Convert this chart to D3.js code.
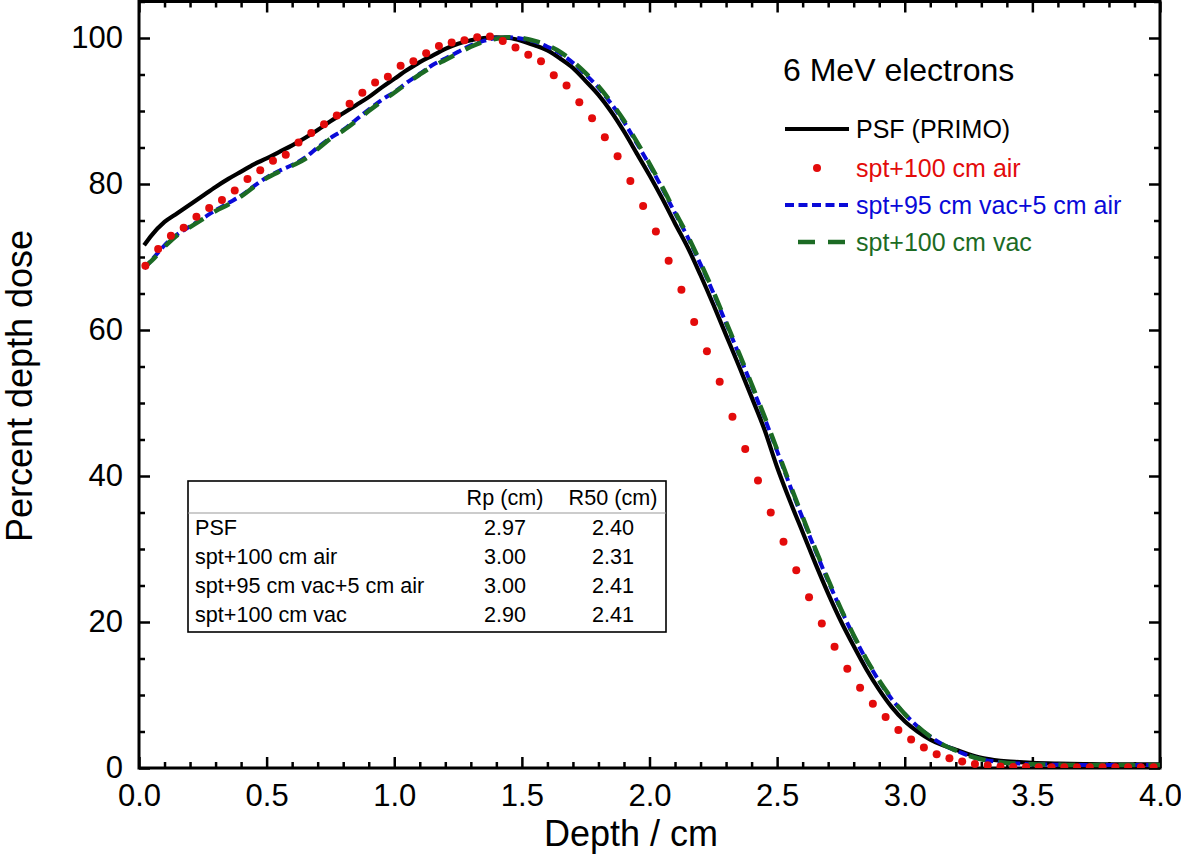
<!DOCTYPE html>
<html><head><meta charset="utf-8">
<script src="https://cdn.jsdelivr.net/npm/d3@7"></script>
<style>
html,body{margin:0;padding:0;background:#fff;}
svg{display:block;font-family:"Liberation Sans",Arial,sans-serif;}
</style></head>
<body><svg id="c" width="1181" height="858"></svg>
<script>
// ---------- data ----------
const lineDepth = [0.02,0.05,0.10,0.15,0.20,0.25,0.30,0.35,0.40,0.45,0.50,0.55,0.60,0.65,0.70,0.75,0.80,0.85,0.90,0.95,
  1.00,1.05,1.10,1.15,1.20,1.25,1.30,1.35,1.40,1.45,1.50,1.55,1.60,1.65,1.70,1.75,1.80,1.85,1.90,1.95,
  2.00,2.05,2.10,2.15,2.20,2.25,2.30,2.35,2.40,2.45,2.50,2.55,2.60,2.65,2.70,2.75,2.80,2.85,2.90,2.95,
  3.00,3.05,3.10,3.15,3.20,3.25,3.30,3.35,3.40,3.45,3.50,3.60,3.70,3.80,3.90,4.00];
const psfDose = [71.6,73.0,74.8,76.0,77.2,78.4,79.6,80.7,81.7,82.7,83.5,84.4,85.3,86.3,87.4,88.6,89.7,90.8,91.9,93.2,
  94.4,95.6,96.7,97.6,98.5,99.2,99.7,100.0,100.1,100.0,99.6,99.0,98.3,97.2,95.9,94.1,92.2,89.9,87.2,84.2,
  81.2,78.0,74.6,71.3,67.5,63.5,59.3,55.1,50.8,46.4,41.2,36.6,32.3,28.0,23.9,20.1,16.7,13.5,10.7,8.3,
  6.4,5.0,3.9,3.1,2.5,1.9,1.4,1.1,0.9,0.8,0.7,0.6,0.55,0.5,0.5,0.5];
const vacAirDose = [68.4,69.6,71.6,73.1,74.2,75.3,76.4,77.4,78.4,79.7,80.9,81.8,82.6,83.6,85.0,86.3,87.4,88.8,90.2,91.5,
  92.6,93.9,95.1,96.3,97.2,98.1,99.0,99.6,100.0,100.1,99.9,99.5,98.8,97.9,96.6,95.0,93.2,91.0,88.5,85.6,
  82.6,79.4,76.0,72.7,69.0,65.1,60.9,56.7,52.4,48.0,43.4,38.7,34.2,29.8,25.6,21.7,18.1,14.8,11.9,9.4,
  7.4,5.7,4.3,3.2,2.4,1.7,1.2,0.9,0.7,0.6,0.5,0.45,0.4,0.4,0.4,0.4];
const vacDose = [68.6,69.5,71.4,73.0,74.1,75.2,76.3,77.2,78.3,79.6,80.8,81.7,82.5,83.4,84.8,86.2,87.3,88.6,90.0,91.3,
  92.5,93.8,95.0,96.1,97.0,97.9,98.8,99.5,99.9,100.1,100.0,99.6,99.0,98.1,96.8,95.2,93.4,91.2,88.7,85.8,
  82.8,79.6,76.2,72.9,69.2,65.3,61.1,56.9,52.6,48.2,43.6,38.9,34.4,30.0,25.8,21.8,18.2,14.9,12.0,9.5,
  7.4,5.7,4.3,3.2,2.4,1.7,1.2,0.9,0.7,0.6,0.5,0.45,0.4,0.4,0.4,0.4];
const airDepth = [0.025,0.075,0.125,0.175,0.225,0.275,0.325,0.375,0.425,0.475,0.525,0.575,0.625,0.675,0.725,0.775,0.825,0.875,0.925,0.975,
  1.025,1.075,1.125,1.175,1.225,1.275,1.325,1.375,1.425,1.475,1.525,1.575,1.625,1.675,1.725,1.775,1.825,1.875,1.925,1.975,
  2.025,2.075,2.125,2.175,2.225,2.275,2.325,2.375,2.425,2.475,2.525,2.575,2.625,2.675,2.725,2.775,2.825,2.875,2.925,2.975,
  3.025,3.075,3.125,3.175,3.225,3.275,3.325,3.375,3.425,3.475,3.525,3.575,3.625,3.675,3.725,3.775,3.825,3.875,3.925,3.975];
const airDose = [68.8,71.1,72.9,74.0,75.5,76.7,77.8,79.1,80.7,81.9,83.2,84.0,85.7,87.0,88.2,89.4,91.0,92.5,93.9,94.7,
  96.2,96.8,97.9,98.9,99.4,99.7,100.1,100.2,99.6,98.7,97.7,96.8,94.9,93.5,91.2,89.0,86.4,83.8,80.4,77.0,
  73.5,69.5,65.5,61.1,57.1,52.9,48.1,43.7,39.4,35.0,31.0,27.1,23.4,19.8,16.6,13.6,11.0,8.8,7.0,5.2,
  3.9,2.8,1.9,1.35,0.9,0.55,0.37,0.22,0.15,0.12,0.1,0.1,0.1,0.1,0.1,0.1,0.1,0.1,0.1,0.1];

const xMajor = [0.0,0.5,1.0,1.5,2.0,2.5,3.0,3.5,4.0];
const xTickLabels = ["0.0","0.5","1.0","1.5","2.0","2.5","3.0","3.5","4.0"];
const xMinor = [0.1,0.2,0.3,0.4,0.6,0.7,0.8,0.9,1.1,1.2,1.3,1.4,1.6,1.7,1.8,1.9,2.1,2.2,2.3,2.4,2.6,2.7,2.8,2.9,3.1,3.2,3.3,3.4,3.6,3.7,3.8,3.9];
const yMajor = [0,20,40,60,80,100];
const yMinor = [5,10,15,25,30,35,45,50,55,65,70,75,85,90,95,105];

const legendTitle = "6 MeV electrons";
const seriesNames = ["PSF (PRIMO)","spt+100 cm air","spt+95 cm vac+5 cm air","spt+100 cm vac"];
const tableHeader = ["", "Rp (cm)", "R50 (cm)"];
const tableRows = ["PSF","spt+100 cm air","spt+95 cm vac+5 cm air","spt+100 cm vac"];
const tableRp = ["2.97","3.00","3.00","2.90"];
const tableR50 = ["2.40","2.31","2.41","2.41"];

// ---------- layout ----------
const W = 1181, H = 858;
const m = {left:139, right:21, top:1.5, bottom:90};
const iw = W - m.left - m.right, ih = H - m.top - m.bottom;
const RED = "#e30b0b", BLUE = "#0a0ad8", GREEN = "#1c6b24";

const svg = d3.select("#c");
const g = svg.append("g").attr("transform", `translate(${m.left},${m.top})`);
const x = d3.scaleLinear().domain([0,4]).range([0,iw]);
const y = d3.scaleLinear().domain([0,105]).range([ih,0]);

function styleAxis(sel){
  sel.select(".domain").remove();
  sel.selectAll(".tick line").attr("stroke","#000").attr("stroke-width",2.5);
  sel.selectAll("text").attr("font-size",31).attr("fill","#000").attr("font-family","Liberation Sans, Arial, sans-serif");
}
g.append("g").attr("transform",`translate(0,${ih})`)
  .call(d3.axisBottom(x).tickValues(xMajor).tickFormat((d,i)=>xTickLabels[i]).tickSize(-11).tickPadding(16)).call(styleAxis);
g.append("g").attr("transform",`translate(0,${ih})`)
  .call(d3.axisBottom(x).tickValues(xMinor).tickFormat("").tickSize(-6)).call(styleAxis);
g.append("g").call(d3.axisTop(x).tickValues(xMajor).tickFormat("").tickSize(-11)).call(styleAxis);
g.append("g").call(d3.axisTop(x).tickValues(xMinor).tickFormat("").tickSize(-6)).call(styleAxis);
g.append("g").call(d3.axisLeft(y).tickValues(yMajor).tickFormat(d3.format("d")).tickSize(-11).tickPadding(16)).call(styleAxis);
g.append("g").call(d3.axisLeft(y).tickValues(yMinor).tickFormat("").tickSize(-6)).call(styleAxis);
g.append("g").attr("transform",`translate(${iw},0)`).call(d3.axisRight(y).tickValues(yMajor).tickFormat("").tickSize(-11)).call(styleAxis);
g.append("g").attr("transform",`translate(${iw},0)`).call(d3.axisRight(y).tickValues(yMinor).tickFormat("").tickSize(-6)).call(styleAxis);

g.append("rect").attr("x",0).attr("y",0).attr("width",iw).attr("height",ih)
  .attr("fill","none").attr("stroke","#000").attr("stroke-width",3);

// axis titles
svg.append("text").attr("x", 631).attr("y", 846).attr("text-anchor","middle")
  .attr("font-size",36).text("Depth / cm");
svg.append("text").attr("transform",`translate(32,386) rotate(-90)`).attr("text-anchor","middle")
  .attr("font-size",36).text("Percent depth dose");

// curves
g.append("clipPath").attr("id","clp").append("rect").attr("width",iw).attr("height",ih);
const plot = g.append("g").attr("clip-path","url(#clp)");
const line = d3.line().x(d=>x(d[0])).y(d=>y(d[1])).curve(d3.curveMonotoneX);
const zip = (a,b)=>a.map((v,i)=>[v,b[i]]);
plot.append("path").datum(zip(lineDepth,psfDose)).attr("d",line)
  .attr("fill","none").attr("stroke","#000").attr("stroke-width",4.2);
plot.append("path").datum(zip(lineDepth,vacAirDose)).attr("d",line)
  .attr("fill","none").attr("stroke",BLUE).attr("stroke-width",4).attr("stroke-dasharray","9,4.5");
plot.append("path").datum(zip(lineDepth,vacDose)).attr("d",line)
  .attr("fill","none").attr("stroke",GREEN).attr("stroke-width",4.5).attr("stroke-dasharray","17,13");
plot.selectAll("circle.air").data(zip(airDepth,airDose)).join("circle").attr("class","air")
  .attr("cx",d=>x(d[0])).attr("cy",d=>y(d[1])).attr("r",4).attr("fill",RED);

// legend
svg.append("text").attr("x",783).attr("y",81).attr("font-size",32).text(legendTitle);
const leg = [
  {y:129, color:"#000", type:"solid"},
  {y:168, color:RED, type:"dot"},
  {y:205, color:BLUE, type:"short"},
  {y:242, color:GREEN, type:"long"}
];
leg.forEach((L,i)=>{
  if(L.type==="dot"){
    svg.append("circle").attr("cx",817).attr("cy",L.y).attr("r",4).attr("fill",RED);
  } else if(L.type==="solid"){
    svg.append("line").attr("x1",785).attr("x2",849).attr("y1",L.y).attr("y2",L.y).attr("stroke","#000").attr("stroke-width",4.2);
  } else if(L.type==="short"){
    svg.append("line").attr("x1",785).attr("x2",849).attr("y1",L.y).attr("y2",L.y).attr("stroke",BLUE).attr("stroke-width",4).attr("stroke-dasharray","9,4.5");
  } else {
    svg.append("line").attr("x1",798).attr("x2",845).attr("y1",L.y).attr("y2",L.y).attr("stroke",GREEN).attr("stroke-width",4.5).attr("stroke-dasharray","17,13");
  }
  svg.append("text").attr("x",856).attr("y",L.y+9).attr("font-size",25)
    .attr("fill", i===0 ? "#000" : L.color).text(seriesNames[i]);
});

// table box
const tb = {x:188, y:481, w:478, h:151};
svg.append("rect").attr("x",tb.x).attr("y",tb.y).attr("width",tb.w).attr("height",tb.h)
  .attr("fill","#fff").attr("stroke","#000").attr("stroke-width",1.6);
svg.append("line").attr("x1",tb.x).attr("x2",tb.x+tb.w).attr("y1",513).attr("y2",513)
  .attr("stroke","#999").attr("stroke-width",1);
const col1 = 505, col2 = 613;
const fs = 21.6;
svg.append("text").attr("x",col1).attr("y",505).attr("text-anchor","middle").attr("font-size",fs).text(tableHeader[1]);
svg.append("text").attr("x",col2).attr("y",505).attr("text-anchor","middle").attr("font-size",fs).text(tableHeader[2]);
const rowY = [535,564,593,622];
tableRows.forEach((r,i)=>{
  svg.append("text").attr("x",195).attr("y",rowY[i]).attr("font-size",fs).text(r);
  svg.append("text").attr("x",col1).attr("y",rowY[i]).attr("text-anchor","middle").attr("font-size",fs).text(tableRp[i]);
  svg.append("text").attr("x",col2).attr("y",rowY[i]).attr("text-anchor","middle").attr("font-size",fs).text(tableR50[i]);
});
</script></body></html>
